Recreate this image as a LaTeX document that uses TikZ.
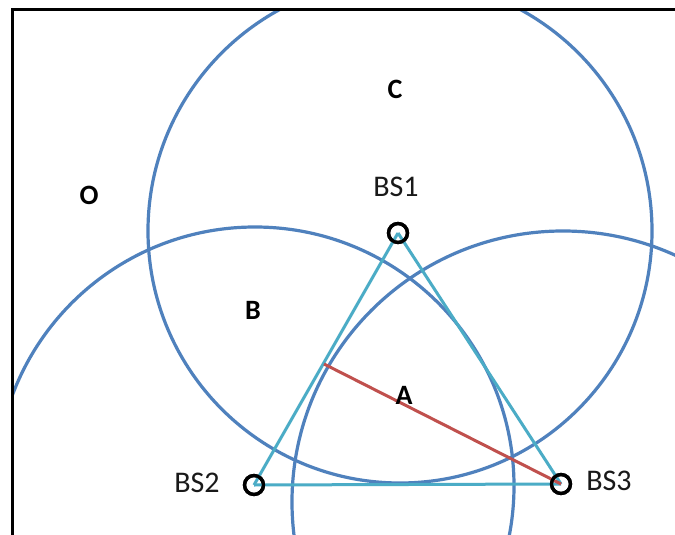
\documentclass[tikz,border=0pt]{standalone}
\usepackage{fontspec}
\setmainfont{Carlito}
\definecolor{cblue}{HTML}{4F81BD}
\definecolor{cteal}{HTML}{4BACC6}
\definecolor{cred}{HTML}{C0504D}
\begin{document}
\begin{tikzpicture}[x=1pt,y=-1pt,
  ring/.style={draw=cblue,line width=3.2pt},
  link/.style={draw=cteal,line width=3pt},
  dist/.style={draw=cred,line width=3pt},
  station/.style={circle,draw=black,line width=3.3pt,minimum size=19pt,inner sep=0pt},
  bslabel/.style={font=\fontsize{30}{32}\selectfont,text=black!90},
  region/.style={font=\bfseries\fontsize{28}{30}\selectfont}]
\useasboundingbox (0,0) rectangle (675,535);
\fill[white] (0,0) rectangle (675,535);
\coordinate (cC) at (400,231);
\coordinate (cB) at (255,486);
\coordinate (cR) at (563,502);
\begin{scope}
\clip (12,10) rectangle (675,535);
\draw[ring] (cC) circle[radius=252pt];
\draw[ring] (cB) circle[radius=259pt];
\draw[ring] (cR) circle[radius=271pt];
\end{scope}
\node[station] (bs1) at (398,233) {};
\node[station] (bs2) at (254,485) {};
\node[station] (bs3) at (561,484) {};
\coordinate (rs) at (324,364);
\draw[link] (bs1.center) -- (bs2.center);
\draw[link] (bs1.center) -- (bs3.center);
\draw[link] (bs2.center) -- (bs3.center);
\draw[dist] (rs) -- (bs3.center);
\node[station] at (bs1) {};
\node[station] at (bs2) {};
\node[station] at (bs3) {};
\node[bslabel] (l1) at (396,187) {BS1};
\node[bslabel] (l2) at (197,483) {BS2};
\node[bslabel] (l3) at (609,481) {BS3};
\node[region] (rC) at (395,89) {C};
\node[region] (rO) at (89,195) {O};
\node[region] (rB) at (253,310) {B};
\node[region] (rA) at (404,395) {A};
\draw[line width=3pt,line cap=rect] (12,535) -- (12,10) -- (675,10);
\end{tikzpicture}
\end{document}
